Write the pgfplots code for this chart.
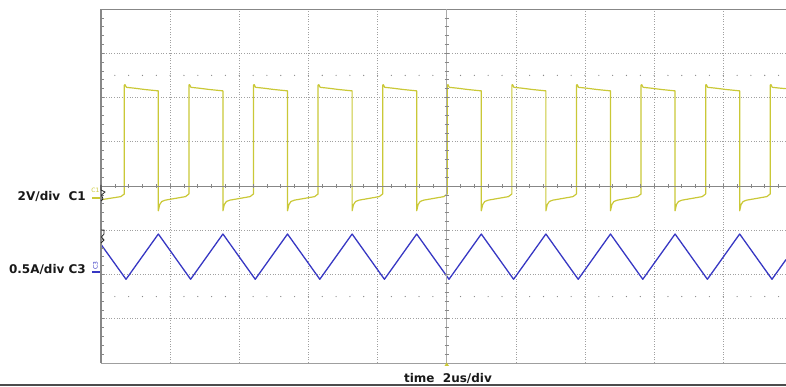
\documentclass[border=0pt]{standalone}
\usepackage{pgfplots}
\pgfplotsset{compat=1.18}
\usepackage{fontspec}
\setmainfont{DejaVu Sans}
\definecolor{trY}{RGB}{202,200,55}
\definecolor{trB}{RGB}{55,55,195}
\definecolor{gridc}{RGB}{160,160,160}
\definecolor{axc}{RGB}{135,135,135}
\definecolor{vaxc}{RGB}{170,170,170}
\begin{document}
\begin{tikzpicture}
\useasboundingbox (0,0) rectangle (786pt,387pt);
\begin{axis}[
  at={(101pt,24pt)}, anchor=south west, scale only axis,
  width=685pt, height=354pt,
  xmin=0, xmax=19.81, ymin=-4, ymax=4,
  axis line style={draw=none},
  xtick={2,4,...,18}, ytick={-3,-2,-1,0,1,2,3},
  xticklabels={}, yticklabels={}, major tick length=0pt,
  grid=major,
  major grid style={gridc, line width=0.6pt, dash pattern=on 1pt off 1.6pt},
  clip=false,
]
% C1 switching node voltage (divisions)
\addplot[trY, line width=1.2pt, line join=round] coordinates {
(0,-0.31)
(0.574,-0.24) (0.674,-0.18) (0.674,2.28) (0.694,2.29) (0.734,2.23) (0.974,2.21) (1.274,2.18) (1.658,2.15) (1.658,-0.56) (1.698,-0.42) (1.758,-0.35) (1.858,-0.32)
(2.442,-0.24) (2.542,-0.18) (2.542,2.28) (2.562,2.29) (2.602,2.23) (2.842,2.21) (3.142,2.18) (3.526,2.15) (3.526,-0.56) (3.566,-0.42) (3.626,-0.35) (3.726,-0.32)
(4.310,-0.24) (4.410,-0.18) (4.410,2.28) (4.430,2.29) (4.470,2.23) (4.710,2.21) (5.010,2.18) (5.394,2.15) (5.394,-0.56) (5.434,-0.42) (5.494,-0.35) (5.594,-0.32)
(6.178,-0.24) (6.278,-0.18) (6.278,2.28) (6.298,2.29) (6.338,2.23) (6.578,2.21) (6.878,2.18) (7.262,2.15) (7.262,-0.56) (7.302,-0.42) (7.362,-0.35) (7.462,-0.32)
(8.046,-0.24) (8.146,-0.18) (8.146,2.28) (8.166,2.29) (8.206,2.23) (8.446,2.21) (8.746,2.18) (9.130,2.15) (9.130,-0.56) (9.170,-0.42) (9.230,-0.35) (9.330,-0.32)
(9.914,-0.24) (10.014,-0.18) (10.014,2.28) (10.034,2.29) (10.074,2.23) (10.314,2.21) (10.614,2.18) (10.998,2.15) (10.998,-0.56) (11.038,-0.42) (11.098,-0.35) (11.198,-0.32)
(11.782,-0.24) (11.882,-0.18) (11.882,2.28) (11.902,2.29) (11.942,2.23) (12.182,2.21) (12.482,2.18) (12.866,2.15) (12.866,-0.56) (12.906,-0.42) (12.966,-0.35) (13.066,-0.32)
(13.650,-0.24) (13.750,-0.18) (13.750,2.28) (13.770,2.29) (13.810,2.23) (14.050,2.21) (14.350,2.18) (14.734,2.15) (14.734,-0.56) (14.774,-0.42) (14.834,-0.35) (14.934,-0.32)
(15.518,-0.24) (15.618,-0.18) (15.618,2.28) (15.638,2.29) (15.678,2.23) (15.918,2.21) (16.218,2.18) (16.602,2.15) (16.602,-0.56) (16.642,-0.42) (16.702,-0.35) (16.802,-0.32)
(17.386,-0.24) (17.486,-0.18) (17.486,2.28) (17.506,2.29) (17.546,2.23) (17.786,2.21) (18.086,2.18) (18.470,2.15) (18.470,-0.56) (18.510,-0.42) (18.570,-0.35) (18.670,-0.32)
(19.254,-0.24) (19.354,-0.18) (19.354,2.28) (19.374,2.29) (19.414,2.23) (19.654,2.21) (19.81,2.20)
};
% C3 inductor current (divisions)
\addplot[trB, line width=1.3pt, line join=round] coordinates {
(0,-1.32)
(0.724,-2.108) (1.658,-1.085) (2.592,-2.108) (3.526,-1.085) (4.460,-2.108)
(5.394,-1.085) (6.328,-2.108) (7.262,-1.085) (8.196,-2.108) (9.130,-1.085)
(10.064,-2.108) (10.998,-1.085) (11.932,-2.108) (12.866,-1.085) (13.800,-2.108)
(14.734,-1.085) (15.668,-2.108) (16.602,-1.085) (17.536,-2.108) (18.470,-1.085)
(19.404,-2.108) (19.81,-1.663)
};
\end{axis}
% frame
\draw[axc, line width=0.9pt] (101pt,378pt) -- (786pt,378pt);
\draw[axc!80, line width=0.8pt] (101pt,24pt) -- (786pt,24pt);
\draw[axc, line width=1.3pt] (101pt,24pt) -- (101pt,378pt);
\foreach \i in {1,...,39} \draw[axc, line width=0.6pt] (101pt,{24pt+\i*8.85pt}) -- ++(2.5pt,0);
% centre axes with ticks
\draw[axc, line width=0.8pt] (101pt,201pt) -- (786pt,201pt);
\foreach \i in {1,...,49} \draw[axc, line width=0.6pt] ({101pt+\i*13.828pt},198.8pt) -- ++(0,4.4pt);
\draw[vaxc, line width=0.8pt] (446.7pt,24pt) -- (446.7pt,378pt);
\foreach \i in {1,...,39} \draw[axc, line width=0.6pt] (444.5pt,{24pt+\i*8.85pt}) -- ++(4.4pt,0);
% dotted rows at +-2.5 div
\foreach \i in {1,...,49} {
  \fill[gridc!85!black] ({101pt+\i*13.828pt},311.6pt) circle (0.65pt);
  \fill[gridc!85!black] ({101pt+\i*13.828pt},90.4pt) circle (0.65pt);
}
% bottom rule
\draw[black!70, line width=1.1pt] (0,2pt) -- (786pt,2pt);
% trigger marker
\fill[trY] (444.5pt,21pt) -- (449pt,21pt) -- (446.7pt,24.5pt) -- cycle;
% channel markers
\draw[black!85, line width=0.8pt] (101pt,202pt) -- (101pt,197pt) -- (105pt,195pt) -- (101.5pt,192pt) -- (103pt,188pt) -- (101pt,186pt);
\draw[trY, line width=1.2pt] (92pt,189pt) -- (100pt,189pt);
\node[trY, font=\fontsize{6}{7}\selectfont, inner sep=0pt] at (95.5pt,196.5pt) {C1};
\draw[black!85, line width=0.8pt] (101pt,157pt) -- (104pt,157pt) -- (104pt,153pt) -- (101.5pt,150pt) -- (104pt,147pt) -- (101pt,144pt);
\draw[trB, line width=1.2pt] (92pt,115pt) -- (100pt,115pt);
\node[trB, font=\fontsize{6}{7}\selectfont, inner sep=0pt, rotate=90] at (95.5pt,121pt) {C3};
% labels
\node[anchor=base east, inner sep=0pt, font=\fontsize{12}{14}\selectfont\bfseries, text=black!90] at (86pt,186.3pt) {2V/div\ \ C1};
\node[anchor=base east, inner sep=0pt, font=\fontsize{12}{14}\selectfont\bfseries, text=black!90] at (86pt,113pt) {0.5A/div C3};
\node[anchor=base, inner sep=0pt, font=\fontsize{12}{14}\selectfont\bfseries, text=black!90] at (448pt,4pt) {time\ \ 2us/div};
\end{tikzpicture}
\end{document}
